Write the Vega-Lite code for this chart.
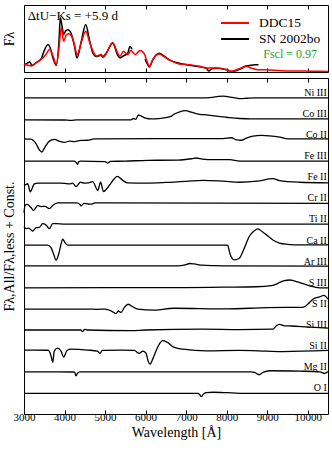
{
"$schema":"https://vega.github.io/schema/vega-lite/v6.json",
"padding":{"left":1,"top":4,"right":4,"bottom":2},
"spacing":2,
"config":{"font":"Liberation Serif","view":{"stroke":"black","strokeWidth":1},
"axis":{"grid":false,"domain":false,"tickColor":"black","tickWidth":1,"labelColor":"black","titleColor":"black","titleFontWeight":"normal","labelFont":"Liberation Serif","titleFont":"Liberation Serif","labelFlush":false}},
"resolve":{"legend":{"color":"independent"}},
"datasets":{
"spec":[
{"s":"DDC15","g":"m","w":3000,"f":0.11},{"s":"DDC15","g":"m","w":3099,"f":0.10},{"s":"DDC15","g":"m","w":3180,"f":0.09},{"s":"DDC15","g":"m","w":3303,"f":0.14},{"s":"DDC15","g":"m","w":3427,"f":0.19},{"s":"DDC15","g":"m","w":3550,"f":0.27},{"s":"DDC15","g":"m","w":3634,"f":0.34},{"s":"DDC15","g":"m","w":3715,"f":0.24},{"s":"DDC15","g":"m","w":3797,"f":0.115},{"s":"DDC15","g":"m","w":3863,"f":0.36},{"s":"DDC15","g":"m","w":3920,"f":0.66},{"s":"DDC15","g":"m","w":3979,"f":0.46},{"s":"DDC15","g":"m","w":4040,"f":0.55},{"s":"DDC15","g":"m","w":4100,"f":0.57},{"s":"DDC15","g":"m","w":4180,"f":0.53},{"s":"DDC15","g":"m","w":4240,"f":0.42},{"s":"DDC15","g":"m","w":4310,"f":0.26},{"s":"DDC15","g":"m","w":4414,"f":0.44},{"s":"DDC15","g":"m","w":4522,"f":0.61},{"s":"DDC15","g":"m","w":4621,"f":0.44},{"s":"DDC15","g":"m","w":4702,"f":0.31},{"s":"DDC15","g":"m","w":4784,"f":0.24},{"s":"DDC15","g":"m","w":4907,"f":0.26},{"s":"DDC15","g":"m","w":4942,"f":0.234},{"s":"DDC15","g":"m","w":5023,"f":0.28},{"s":"DDC15","g":"m","w":5188,"f":0.44},{"s":"DDC15","g":"m","w":5312,"f":0.28},{"s":"DDC15","g":"m","w":5368,"f":0.234},{"s":"DDC15","g":"m","w":5455,"f":0.31},{"s":"DDC15","g":"m","w":5558,"f":0.26},{"s":"DDC15","g":"m","w":5640,"f":0.32},{"s":"DDC15","g":"m","w":5746,"f":0.26},{"s":"DDC15","g":"m","w":5862,"f":0.32},{"s":"DDC15","g":"m","w":5968,"f":0.27},{"s":"DDC15","g":"m","w":6035,"f":0.16},{"s":"DDC15","g":"m","w":6091,"f":0.085},{"s":"DDC15","g":"m","w":6183,"f":0.19},{"s":"DDC15","g":"m","w":6338,"f":0.27},{"s":"DDC15","g":"m","w":6454,"f":0.23},{"s":"DDC15","g":"m","w":6585,"f":0.18},{"s":"DDC15","g":"m","w":6831,"f":0.12},{"s":"DDC15","g":"m","w":7078,"f":0.11},{"s":"DDC15","g":"m","w":7325,"f":0.085},{"s":"DDC15","g":"m","w":7490,"f":0.06},{"s":"DDC15","g":"m","w":7737,"f":0.06},{"s":"DDC15","g":"m","w":7984,"f":0.034},{"s":"DDC15","g":"m","w":8130,"f":0.01},{"s":"DDC15","g":"m","w":8230,"f":0.03},{"s":"DDC15","g":"m","w":8354,"f":0.06},{"s":"DDC15","g":"m","w":8477,"f":0.085},{"s":"DDC15","g":"m","w":8600,"f":0.06},{"s":"DDC15","g":"m","w":8766,"f":0.034},{"s":"DDC15","g":"m","w":8970,"f":0.033},{"s":"DDC15","g":"m","w":9340,"f":0.02},{"s":"DDC15","g":"m","w":9760,"f":0.015},{"s":"DDC15","g":"m","w":10080,"f":0.012},{"s":"DDC15","g":"m","w":10500,"f":0.009},
{"s":"SN 2002bo","g":"o1","w":3000,"f":0.10},{"s":"SN 2002bo","g":"o1","w":3074,"f":0.13},{"s":"SN 2002bo","g":"o1","w":3140,"f":0.15},{"s":"SN 2002bo","g":"o1","w":3197,"f":0.10},{"s":"SN 2002bo","g":"o1","w":3303,"f":0.14},{"s":"SN 2002bo","g":"o1","w":3427,"f":0.20},{"s":"SN 2002bo","g":"o1","w":3493,"f":0.31},{"s":"SN 2002bo","g":"o1","w":3592,"f":0.41},{"s":"SN 2002bo","g":"o1","w":3641,"f":0.37},{"s":"SN 2002bo","g":"o1","w":3715,"f":0.21},{"s":"SN 2002bo","g":"o1","w":3797,"f":0.10},{"s":"SN 2002bo","g":"o1","w":3863,"f":0.46},{"s":"SN 2002bo","g":"o1","w":3896,"f":0.81},{"s":"SN 2002bo","g":"o1","w":3937,"f":0.69},{"s":"SN 2002bo","g":"o1","w":3979,"f":0.56},{"s":"SN 2002bo","g":"o1","w":4024,"f":0.61},{"s":"SN 2002bo","g":"o1","w":4086,"f":0.63},{"s":"SN 2002bo","g":"o1","w":4160,"f":0.58},{"s":"SN 2002bo","g":"o1","w":4240,"f":0.40},{"s":"SN 2002bo","g":"o1","w":4308,"f":0.21},{"s":"SN 2002bo","g":"o1","w":4414,"f":0.46},{"s":"SN 2002bo","g":"o1","w":4522,"f":0.71},{"s":"SN 2002bo","g":"o1","w":4621,"f":0.46},{"s":"SN 2002bo","g":"o1","w":4702,"f":0.28},{"s":"SN 2002bo","g":"o1","w":4784,"f":0.23},{"s":"SN 2002bo","g":"o1","w":4907,"f":0.25},{"s":"SN 2002bo","g":"o1","w":4942,"f":0.22},{"s":"SN 2002bo","g":"o1","w":5023,"f":0.27},{"s":"SN 2002bo","g":"o1","w":5188,"f":0.43},{"s":"SN 2002bo","g":"o1","w":5312,"f":0.25},{"s":"SN 2002bo","g":"o1","w":5368,"f":0.21},{"s":"SN 2002bo","g":"o1","w":5455,"f":0.24},{"s":"SN 2002bo","g":"o1","w":5558,"f":0.28},{"s":"SN 2002bo","g":"o1","w":5615,"f":0.38},{"s":"SN 2002bo","g":"o1","w":5665,"f":0.34},
{"s":"SN 2002bo","g":"o2","w":5985,"f":0.19},{"s":"SN 2002bo","g":"o2","w":6035,"f":0.13},{"s":"SN 2002bo","g":"o2","w":6091,"f":0.075},{"s":"SN 2002bo","g":"o2","w":6183,"f":0.19},{"s":"SN 2002bo","g":"o2","w":6338,"f":0.28},{"s":"SN 2002bo","g":"o2","w":6454,"f":0.24},{"s":"SN 2002bo","g":"o2","w":6585,"f":0.18},{"s":"SN 2002bo","g":"o2","w":6831,"f":0.13},{"s":"SN 2002bo","g":"o2","w":7078,"f":0.10},{"s":"SN 2002bo","g":"o2","w":7325,"f":0.08},{"s":"SN 2002bo","g":"o2","w":7490,"f":0.06},{"s":"SN 2002bo","g":"o2","w":7564,"f":0.015},{"s":"SN 2002bo","g":"o2","w":7638,"f":0.05},{"s":"SN 2002bo","g":"o2","w":7737,"f":0.055},{"s":"SN 2002bo","g":"o2","w":7984,"f":0.036},{"s":"SN 2002bo","g":"o2","w":8130,"f":0.008},{"s":"SN 2002bo","g":"o2","w":8230,"f":0.02},{"s":"SN 2002bo","g":"o2","w":8354,"f":0.05},{"s":"SN 2002bo","g":"o2","w":8477,"f":0.09},{"s":"SN 2002bo","g":"o2","w":8600,"f":0.10},{"s":"SN 2002bo","g":"o2","w":8723,"f":0.11},{"s":"SN 2002bo","g":"o2","w":8785,"f":0.11}
],
"ions":[
{"ion":"Ni III","w":3000,"f":14},{"ion":"Ni III","w":7500,"f":14},{"ion":"Ni III","w":7650,"f":14.02},{"ion":"Ni III","w":7800,"f":14.07},{"ion":"Ni III","w":7920,"f":14.08},{"ion":"Ni III","w":8050,"f":14.05},{"ion":"Ni III","w":8200,"f":14.0},{"ion":"Ni III","w":8350,"f":13.96},{"ion":"Ni III","w":8500,"f":13.98},{"ion":"Ni III","w":8700,"f":14},{"ion":"Ni III","w":10500,"f":14},
{"ion":"Co III","w":3000,"f":12.96},{"ion":"Co III","w":4000,"f":12.95},{"ion":"Co III","w":4160,"f":12.93},{"ion":"Co III","w":4300,"f":12.96},{"ion":"Co III","w":5640,"f":12.96},{"ion":"Co III","w":5700,"f":13.02},{"ion":"Co III","w":5760,"f":12.98},{"ion":"Co III","w":5820,"f":13.19},{"ion":"Co III","w":5880,"f":13.15},{"ion":"Co III","w":5930,"f":13.1},{"ion":"Co III","w":6000,"f":13.04},{"ion":"Co III","w":6130,"f":13.0},{"ion":"Co III","w":6380,"f":13.03},{"ion":"Co III","w":6625,"f":13.12},{"ion":"Co III","w":6680,"f":13.2},{"ion":"Co III","w":6840,"f":13.34},{"ion":"Co III","w":6990,"f":13.39},{"ion":"Co III","w":7127,"f":13.32},{"ion":"Co III","w":7334,"f":13.22},{"ion":"Co III","w":7500,"f":13.19},{"ion":"Co III","w":7745,"f":13.13},{"ion":"Co III","w":7990,"f":13.08},{"ion":"Co III","w":8320,"f":13.02},{"ion":"Co III","w":8600,"f":13.0},{"ion":"Co III","w":10500,"f":13.0},
{"ion":"Co II","w":3000,"f":12.06},{"ion":"Co II","w":3170,"f":12.04},{"ion":"Co II","w":3296,"f":11.83},{"ion":"Co II","w":3378,"f":11.54},{"ion":"Co II","w":3437,"f":11.43},{"ion":"Co II","w":3518,"f":11.67},{"ion":"Co II","w":3625,"f":11.95},{"ion":"Co II","w":3748,"f":12.03},{"ion":"Co II","w":3871,"f":11.94},{"ion":"Co II","w":3995,"f":11.89},{"ion":"Co II","w":4120,"f":11.95},{"ion":"Co II","w":4250,"f":11.93},{"ion":"Co II","w":4400,"f":11.98},{"ion":"Co II","w":4570,"f":11.99},{"ion":"Co II","w":4735,"f":12.06},{"ion":"Co II","w":7910,"f":12.07},{"ion":"Co II","w":8115,"f":12.11},{"ion":"Co II","w":8240,"f":12.01},{"ion":"Co II","w":8362,"f":11.99},{"ion":"Co II","w":8485,"f":12.09},{"ion":"Co II","w":8650,"f":12.19},{"ion":"Co II","w":8855,"f":12.22},{"ion":"Co II","w":9050,"f":12.2},{"ion":"Co II","w":9310,"f":12.14},{"ion":"Co II","w":9513,"f":12.06},{"ion":"Co II","w":10500,"f":12.06},
{"ion":"Fe III","w":3000,"f":11.0},{"ion":"Fe III","w":4250,"f":11.0},{"ion":"Fe III","w":4300,"f":10.9},{"ion":"Fe III","w":4324,"f":10.85},{"ion":"Fe III","w":4350,"f":10.98},{"ion":"Fe III","w":4400,"f":11.0},{"ion":"Fe III","w":5000,"f":10.98},{"ion":"Fe III","w":5065,"f":10.91},{"ion":"Fe III","w":5130,"f":10.99},{"ion":"Fe III","w":5500,"f":11.0},{"ion":"Fe III","w":6050,"f":11.04},{"ion":"Fe III","w":6800,"f":11.05},{"ion":"Fe III","w":7150,"f":11.12},{"ion":"Fe III","w":7250,"f":11.15},{"ion":"Fe III","w":7400,"f":11.1},{"ion":"Fe III","w":7663,"f":11.07},{"ion":"Fe III","w":8075,"f":11.07},{"ion":"Fe III","w":8320,"f":11.0},{"ion":"Fe III","w":10500,"f":11.0},
{"ion":"Fe II","w":3000,"f":9.85},{"ion":"Fe II","w":3050,"f":9.9},{"ion":"Fe II","w":3090,"f":9.93},{"ion":"Fe II","w":3155,"f":9.55},{"ion":"Fe II","w":3210,"f":9.75},{"ion":"Fe II","w":3255,"f":9.92},{"ion":"Fe II","w":3340,"f":9.96},{"ion":"Fe II","w":3900,"f":9.96},{"ion":"Fe II","w":4000,"f":9.95},{"ion":"Fe II","w":4118,"f":9.92},{"ion":"Fe II","w":4200,"f":9.96},{"ion":"Fe II","w":4283,"f":9.8},{"ion":"Fe II","w":4320,"f":9.85},{"ion":"Fe II","w":4390,"f":10.01},{"ion":"Fe II","w":4480,"f":9.96},{"ion":"Fe II","w":4571,"f":9.97},{"ion":"Fe II","w":4695,"f":10.03},{"ion":"Fe II","w":4820,"f":9.62},{"ion":"Fe II","w":4890,"f":10.0},{"ion":"Fe II","w":4960,"f":9.56},{"ion":"Fe II","w":5020,"f":9.65},{"ion":"Fe II","w":5105,"f":9.85},{"ion":"Fe II","w":5228,"f":10.17},{"ion":"Fe II","w":5300,"f":10.28},{"ion":"Fe II","w":5435,"f":10.09},{"ion":"Fe II","w":5558,"f":9.97},{"ion":"Fe II","w":6000,"f":9.96},{"ion":"Fe II","w":6500,"f":9.99},{"ion":"Fe II","w":7000,"f":10.04},{"ion":"Fe II","w":7416,"f":10.09},{"ion":"Fe II","w":7910,"f":10.05},{"ion":"Fe II","w":8320,"f":10.0},{"ion":"Fe II","w":8750,"f":10.05},{"ion":"Fe II","w":9143,"f":10.17},{"ion":"Fe II","w":9300,"f":10.08},{"ion":"Fe II","w":9800,"f":10.0},{"ion":"Fe II","w":10500,"f":9.97},
{"ion":"Cr II","w":3000,"f":8.55},{"ion":"Cr II","w":3025,"f":8.9},{"ion":"Cr II","w":3080,"f":8.95},{"ion":"Cr II","w":3173,"f":8.8},{"ion":"Cr II","w":3239,"f":8.67},{"ion":"Cr II","w":3338,"f":8.9},{"ion":"Cr II","w":3420,"f":8.85},{"ion":"Cr II","w":3520,"f":8.86},{"ion":"Cr II","w":3625,"f":8.75},{"ion":"Cr II","w":3708,"f":8.9},{"ion":"Cr II","w":3830,"f":9.02},{"ion":"Cr II","w":4300,"f":9.02},{"ion":"Cr II","w":4380,"f":8.95},{"ion":"Cr II","w":4406,"f":8.88},{"ion":"Cr II","w":4480,"f":9.0},{"ion":"Cr II","w":4580,"f":8.97},{"ion":"Cr II","w":4653,"f":8.96},{"ion":"Cr II","w":4750,"f":9.02},{"ion":"Cr II","w":5000,"f":9.02},{"ion":"Cr II","w":10500,"f":9.0},
{"ion":"Ti II","w":3000,"f":7.88},{"ion":"Ti II","w":3050,"f":7.8},{"ion":"Ti II","w":3110,"f":7.83},{"ion":"Ti II","w":3214,"f":7.69},{"ion":"Ti II","w":3300,"f":7.85},{"ion":"Ti II","w":3378,"f":7.86},{"ion":"Ti II","w":3460,"f":8.04},{"ion":"Ti II","w":3540,"f":7.98},{"ion":"Ti II","w":3625,"f":7.8},{"ion":"Ti II","w":3708,"f":8.04},{"ion":"Ti II","w":3790,"f":8.04},{"ion":"Ti II","w":4000,"f":8.02},{"ion":"Ti II","w":10500,"f":8.02},
{"ion":"Ca II","w":3000,"f":7.02},{"ion":"Ca II","w":3585,"f":7.02},{"ion":"Ca II","w":3666,"f":6.9},{"ion":"Ca II","w":3732,"f":6.59},{"ion":"Ca II","w":3790,"f":6.31},{"ion":"Ca II","w":3856,"f":6.59},{"ion":"Ca II","w":3913,"f":7.07},{"ion":"Ca II","w":3955,"f":7.3},{"ion":"Ca II","w":4012,"f":7.14},{"ion":"Ca II","w":4078,"f":7.02},{"ion":"Ca II","w":8025,"f":7.02},{"ion":"Ca II","w":8065,"f":6.74},{"ion":"Ca II","w":8107,"f":6.48},{"ion":"Ca II","w":8190,"f":6.32},{"ion":"Ca II","w":8312,"f":6.4},{"ion":"Ca II","w":8435,"f":6.88},{"ion":"Ca II","w":8558,"f":7.43},{"ion":"Ca II","w":8682,"f":7.7},{"ion":"Ca II","w":8770,"f":7.79},{"ion":"Ca II","w":8890,"f":7.64},{"ion":"Ca II","w":9000,"f":7.48},{"ion":"Ca II","w":9150,"f":7.25},{"ion":"Ca II","w":9300,"f":7.12},{"ion":"Ca II","w":9500,"f":7.06},{"ion":"Ca II","w":9800,"f":7.03},{"ion":"Ca II","w":10500,"f":7.03},
{"ion":"Ar III","w":3000,"f":6.04},{"ion":"Ar III","w":6800,"f":6.04},{"ion":"Ar III","w":6950,"f":6.07},{"ion":"Ar III","w":7100,"f":6.15},{"ion":"Ar III","w":7200,"f":6.13},{"ion":"Ar III","w":7400,"f":6.07},{"ion":"Ar III","w":7700,"f":6.05},{"ion":"Ar III","w":8000,"f":6.04},{"ion":"Ar III","w":10500,"f":6.03},
{"ion":"S III","w":3000,"f":5.0},{"ion":"S III","w":7000,"f":5.01},{"ion":"S III","w":7900,"f":5.03},{"ion":"S III","w":8730,"f":5.05},{"ion":"S III","w":9100,"f":5.1},{"ion":"S III","w":9225,"f":5.17},{"ion":"S III","w":9308,"f":5.26},{"ion":"S III","w":9420,"f":5.34},{"ion":"S III","w":9555,"f":5.37},{"ion":"S III","w":9680,"f":5.32},{"ion":"S III","w":9802,"f":5.25},{"ion":"S III","w":10049,"f":5.09},{"ion":"S III","w":10295,"f":5.0},{"ion":"S III","w":10500,"f":5.0},
{"ion":"S II","w":3000,"f":3.99},{"ion":"S II","w":4571,"f":3.99},{"ion":"S II","w":4800,"f":3.98},{"ion":"S II","w":5000,"f":3.99},{"ion":"S II","w":5146,"f":3.91},{"ion":"S II","w":5270,"f":3.78},{"ion":"S II","w":5327,"f":3.9},{"ion":"S II","w":5393,"f":3.83},{"ion":"S II","w":5475,"f":4.07},{"ion":"S II","w":5570,"f":4.22},{"ion":"S II","w":5682,"f":4.1},{"ion":"S II","w":5805,"f":3.99},{"ion":"S II","w":6215,"f":3.94},{"ion":"S II","w":6700,"f":4.03},{"ion":"S II","w":8000,"f":4.0},{"ion":"S II","w":9000,"f":4.06},{"ion":"S II","w":9470,"f":4.07},{"ion":"S II","w":9883,"f":4.07},{"ion":"S II","w":10006,"f":4.23},{"ion":"S II","w":10130,"f":4.46},{"ion":"S II","w":10295,"f":4.57},{"ion":"S II","w":10400,"f":4.64},{"ion":"S II","w":10500,"f":4.46},
{"ion":"Si III","w":3000,"f":3.0},{"ion":"Si III","w":4400,"f":3.0},{"ion":"Si III","w":4447,"f":2.93},{"ion":"Si III","w":4500,"f":3.03},{"ion":"Si III","w":4560,"f":3.0},{"ion":"Si III","w":5640,"f":2.97},{"ion":"Si III","w":6000,"f":3.0},{"ion":"Si III","w":7416,"f":3.04},{"ion":"Si III","w":8320,"f":3.02},{"ion":"Si III","w":9143,"f":3.04},{"ion":"Si III","w":9225,"f":3.2},{"ion":"Si III","w":9300,"f":3.27},{"ion":"Si III","w":9431,"f":3.2},{"ion":"Si III","w":9600,"f":3.19},{"ion":"Si III","w":9965,"f":3.15},{"ion":"Si III","w":10500,"f":3.09},
{"ion":"Si II","w":3000,"f":2.05},{"ion":"Si II","w":3600,"f":2.04},{"ion":"Si II","w":3666,"f":1.78},{"ion":"Si II","w":3708,"f":1.47},{"ion":"Si II","w":3748,"f":2.01},{"ion":"Si II","w":3830,"f":2.14},{"ion":"Si II","w":3913,"f":2.0},{"ion":"Si II","w":3979,"f":1.72},{"ion":"Si II","w":4061,"f":2.03},{"ion":"Si II","w":4160,"f":2.09},{"ion":"Si II","w":4571,"f":2.05},{"ion":"Si II","w":4818,"f":2.0},{"ion":"Si II","w":4875,"f":1.89},{"ion":"Si II","w":4930,"f":2.03},{"ion":"Si II","w":5393,"f":2.05},{"ion":"Si II","w":5720,"f":2.03},{"ion":"Si II","w":5845,"f":1.89},{"ion":"Si II","w":5929,"f":2.0},{"ion":"Si II","w":6010,"f":1.9},{"ion":"Si II","w":6067,"f":1.51},{"ion":"Si II","w":6109,"f":1.38},{"ion":"Si II","w":6175,"f":1.62},{"ion":"Si II","w":6257,"f":2.01},{"ion":"Si II","w":6338,"f":2.33},{"ion":"Si II","w":6421,"f":2.5},{"ion":"Si II","w":6545,"f":2.41},{"ion":"Si II","w":6676,"f":2.2},{"ion":"Si II","w":6922,"f":2.09},{"ion":"Si II","w":7498,"f":2.01},{"ion":"Si II","w":8320,"f":2.03},{"ion":"Si II","w":8978,"f":2.0},{"ion":"Si II","w":9390,"f":1.98},{"ion":"Si II","w":10500,"f":2.03},
{"ion":"Mg II","w":3000,"f":1.02},{"ion":"Mg II","w":4200,"f":1.01},{"ion":"Mg II","w":4250,"f":1.0},{"ion":"Mg II","w":4283,"f":0.83},{"ion":"Mg II","w":4320,"f":0.95},{"ion":"Mg II","w":4380,"f":1.02},{"ion":"Mg II","w":8600,"f":1.02},{"ion":"Mg II","w":8690,"f":0.99},{"ion":"Mg II","w":8798,"f":0.88},{"ion":"Mg II","w":8896,"f":0.99},{"ion":"Mg II","w":9062,"f":1.07},{"ion":"Mg II","w":9800,"f":1.05},{"ion":"Mg II","w":10300,"f":1.02},{"ion":"Mg II","w":10418,"f":0.94},{"ion":"Mg II","w":10500,"f":1.03},
{"ion":"O I","w":3000,"f":0.0},{"ion":"O I","w":7293,"f":0.0},{"ion":"O I","w":7340,"f":-0.08},{"ion":"O I","w":7375,"f":-0.16},{"ion":"O I","w":7420,"f":-0.05},{"ion":"O I","w":7498,"f":0.03},{"ion":"O I","w":7663,"f":0.05},{"ion":"O I","w":8000,"f":0.03},{"ion":"O I","w":8320,"f":0.0},{"ion":"O I","w":10500,"f":0.0}
],
"labels":[
{"label":"Ni III","k":14},{"label":"Co III","k":13},{"label":"Co II","k":12},{"label":"Fe III","k":11},{"label":"Fe II","k":10},{"label":"Cr II","k":9},{"label":"Ti II","k":8},{"label":"Ca II","k":7},{"label":"Ar III","k":6},{"label":"S III","k":5},{"label":"S II","k":4},{"label":"Si III","k":3},{"label":"Si II","k":2},{"label":"Mg II","k":1},{"label":"O I","k":0}
]
},
"vconcat":[
{"width":304,"height":67,
"resolve":{"axis":{"x":"independent","y":"independent"}},
"layer":[
{"data":{"name":"spec"},"transform":[{"filter":"datum.s === 'SN 2002bo'"}],
"mark":{"type":"line","strokeWidth":1.5,"interpolate":"monotone"},
"encoding":{
"x":{"field":"w","type":"quantitative","scale":{"domain":[3000,10500],"nice":false,"zero":false},"axis":{"orient":"bottom","values":[3000,4000,5000,6000,7000,8000,9000,10000],"labels":false,"tickSize":-4,"title":null}},
"y":{"field":"f","type":"quantitative","scale":{"domain":[0,1],"nice":false},"axis":{"title":"Fλ","titleFontSize":14,"labels":false,"ticks":false,"titlePadding":8}},
"color":{"field":"s","type":"nominal","scale":{"domain":["DDC15","SN 2002bo"],"range":["#ff0000","#000000"]},
"legend":{"orient":"none","legendX":203,"legendY":10,"title":null,"symbolType":"M-2,0H2","symbolSize":196,"symbolStrokeWidth":2,"labelFontSize":13.5,"labelOffset":16,"rowPadding":1,"padding":0,"labelColor":"black","labelFont":"Liberation Serif"}},
"detail":{"field":"g"}}},
{"data":{"name":"spec"},"transform":[{"filter":"datum.s === 'DDC15'"}],
"mark":{"type":"line","strokeWidth":1.5,"interpolate":"monotone"},
"encoding":{
"x":{"field":"w","type":"quantitative","axis":{"orient":"top","values":[3000,4000,5000,6000,7000,8000,9000,10000],"labels":false,"tickSize":-4,"title":null}},
"y":{"field":"f","type":"quantitative","axis":null},
"color":{"field":"s","type":"nominal"},
"detail":{"field":"g"}}},
{"data":{"values":[{"t":"ΔtU−Ks = +5.9 d"}]},
"mark":{"type":"text","align":"left","baseline":"middle","fontSize":13,"color":"black"},
"encoding":{"x":{"datum":3091,"type":"quantitative","axis":null},"y":{"datum":0.836,"type":"quantitative","axis":null},"text":{"field":"t"}}},
{"data":{"values":[{"t":"Fscl = 0.97"}]},
"mark":{"type":"text","align":"right","baseline":"middle","fontSize":12,"color":"#2ca02c"},
"encoding":{"x":{"datum":10229,"type":"quantitative","axis":null},"y":{"datum":0.273,"type":"quantitative","axis":null},"text":{"field":"t"}}}
]},
{"width":304,"height":336,
"resolve":{"axis":{"x":"independent","y":"independent"}},
"layer":[
{"data":{"name":"ions"},
"mark":{"type":"line","strokeWidth":1.3,"color":"black","interpolate":"monotone"},
"encoding":{
"x":{"field":"w","type":"quantitative","scale":{"domain":[3000,10500],"nice":false,"zero":false},"axis":{"orient":"bottom","values":[3000,4000,5000,6000,7000,8000,9000,10000],"format":"d","tickSize":-4,"labelFontSize":11,"labelPadding":1,"title":"Wavelength [Å]","titleFontSize":14,"titlePadding":3}},
"y":{"field":"f","type":"quantitative","scale":{"domain":[-0.98,14.94],"nice":false,"zero":false},"axis":{"title":"Fλ,All/Fλ,less + Const.","titleFontSize":14,"labels":false,"ticks":false,"titlePadding":8}},
"detail":{"field":"ion"}}},
{"data":{"name":"labels"},
"mark":{"type":"text","align":"right","baseline":"alphabetic","dy":-2,"fontSize":10,"color":"black"},
"encoding":{
"x":{"datum":10470,"type":"quantitative","axis":{"orient":"top","values":[3000,4000,5000,6000,7000,8000,9000,10000],"labels":false,"tickSize":-4,"title":null}},
"y":{"field":"k","type":"quantitative","axis":null},
"text":{"field":"label"}}}
]}
]
}
